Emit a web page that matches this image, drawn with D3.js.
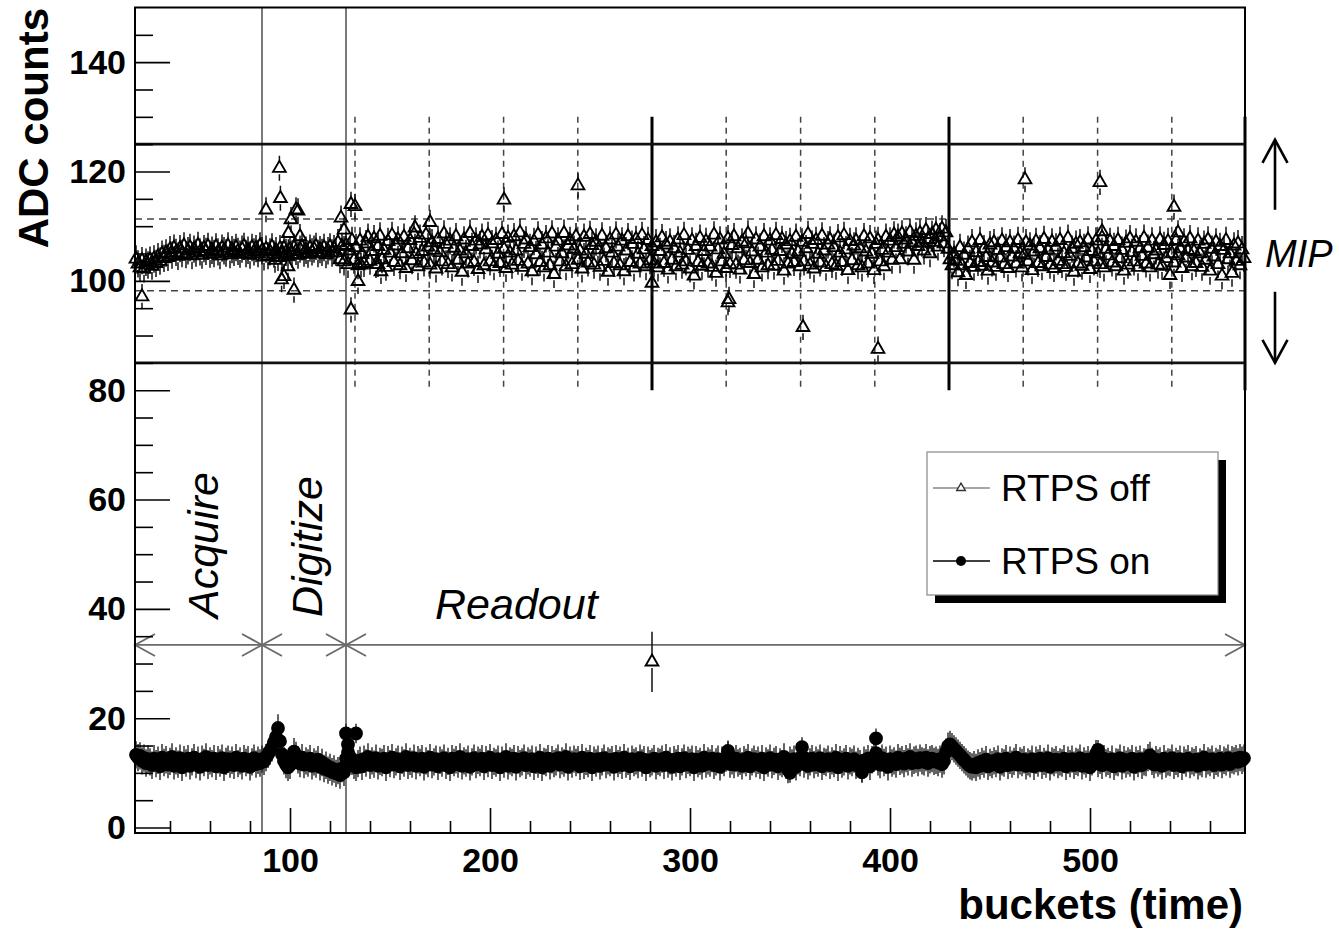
<!DOCTYPE html>
<html><head><meta charset="utf-8">
<script src="https://cdn.jsdelivr.net/npm/d3@7"></script>
<style>
body{margin:0;background:#fff}
svg{display:block;background:#fff}
text{font-family:"Liberation Sans",Arial,Helvetica,sans-serif}
</style>
</head><body>
<svg id="chart" width="1339" height="932"></svg>
<script>
// ---------------- data ----------------
const firstBucket = 23;
// RTPS off : one value per bucket (23 .. 577)
const rtpsOff = [
104.0,103.1,102.4,103.7,102.2,103.4,102.9,103.8,102.7,104.0,
103.2,104.4,103.6,104.9,104.1,105.1,104.3,105.7,104.7,106.0,
105.2,104.5,105.9,105.0,106.4,104.8,105.5,106.1,104.6,105.8,
105.1,106.5,105.3,104.7,105.9,105.4,106.3,104.9,105.6,105.0,
106.2,105.3,104.6,106.0,105.5,105.1,106.4,104.8,105.7,105.2,
106.1,105.4,104.9,105.8,106.3,105.0,105.6,104.7,106.1,105.3,
105.9,105.0,106.4,105.5,104.4,105.8,104.6,105.3,106.2,104.9,
105.5,104.3,105.9,104.8,106.0,105.2,104.5,105.7,104.9,106.1,
105.4,104.7,105.8,106.2,105.1,105.6,104.9,106.0,105.3,105.8,
106.3,105.0,105.7,105.2,106.1,104.8,105.5,106.2,105.1,105.9,
105.2,107.0,103.9,106.3,103.5,106.5,103.0,105.5,107.4,103.8,
106.1,102.8,107.3,104.9,103.2,106.8,108.0,103.6,105.4,107.7,
103.0,106.3,108.2,103.9,105.6,102.5,107.2,105.1,108.3,103.4,
106.4,107.5,102.8,105.0,108.0,102.3,105.9,107.4,103.7,108.5,
104.9,102.6,107.8,105.4,103.3,108.4,106.2,102.9,107.0,105.6,
102.2,107.6,105.2,103.5,108.6,106.7,103.0,107.3,102.4,106.0,
108.1,103.8,105.5,101.6,107.5,105.0,103.1,108.7,106.3,103.4,
107.3,102.1,106.6,108.0,102.8,105.7,108.3,103.5,106.8,102.6,
107.4,104.9,103.2,108.5,105.8,102.3,107.8,105.1,102.9,108.1,
105.5,103.6,108.8,102.5,106.7,107.5,103.1,106.1,101.7,107.2,
104.8,108.4,103.4,106.6,102.4,107.7,105.1,102.8,108.6,101.2,
106.2,107.3,103.5,105.0,108.7,102.6,106.4,107.4,103.0,105.8,
108.1,103.8,105.5,102.2,108.0,104.9,103.3,108.5,106.5,102.9,
107.1,105.7,102.5,108.2,103.6,105.9,101.6,107.5,105.1,103.2,
108.4,106.2,102.8,107.3,101.7,105.5,108.1,103.4,106.7,102.4,
107.6,104.9,103.1,108.3,105.7,102.6,107.4,103.7,106.3,103.1,
107.0,102.4,105.4,107.9,103.2,106.6,102.0,107.1,103.8,105.9,
102.6,107.5,105.1,102.9,108.3,103.5,105.6,102.2,107.3,100.9,
106.3,103.4,107.8,102.7,105.4,107.2,103.1,106.2,102.5,108.4,
101.4,105.7,107.5,103.5,104.9,102.3,107.7,103.0,106.5,108.1,
102.9,105.9,102.0,107.1,103.7,106.8,108.6,103.2,105.3,101.2,
107.5,103.8,106.2,102.4,108.1,105.1,102.8,107.3,105.6,102.7,
108.3,103.6,105.4,107.6,101.8,106.6,103.1,107.2,104.9,103.4,
108.0,105.3,102.6,107.1,103.5,105.9,108.5,102.9,106.7,102.2,
107.4,104.9,103.3,108.2,105.5,102.5,106.6,107.5,103.0,106.1,
102.7,107.9,105.1,103.4,108.3,105.7,101.9,107.2,103.7,106.4,
107.3,102.8,105.9,102.4,108.1,105.3,103.1,107.7,104.9,101.9,
106.7,107.4,103.5,105.6,102.6,108.0,105.1,107.3,103.8,108.4,
106.1,108.0,103.9,108.6,106.7,107.5,105.3,108.9,107.0,103.8,
108.2,106.3,108.7,106.9,105.5,109.2,107.6,105.0,108.5,107.1,
109.3,106.2,108.1,109.5,106.8,108.8,105.8,103.9,102.8,104.9,
103.6,101.5,106.1,102.8,104.7,101.0,105.8,103.2,107.0,102.5,
105.2,103.4,107.4,102.7,105.9,104.3,101.8,106.6,103.3,107.0,
102.5,105.6,104.2,107.3,103.0,106.1,102.3,107.0,104.4,105.8,
103.1,107.4,105.0,102.4,104.7,107.0,103.5,106.4,101.9,105.3,
107.2,103.2,105.9,102.6,107.6,104.3,105.6,102.9,107.1,102.3,
106.2,103.6,107.4,103.0,105.0,102.5,107.8,104.5,105.8,101.6,
106.7,103.1,107.0,102.7,106.1,104.2,107.5,102.1,105.4,103.5,
107.3,105.0,103.0,107.9,102.4,105.8,104.6,107.2,103.3,106.3,
102.6,107.4,104.1,105.6,101.8,106.9,102.9,107.7,105.2,103.5,
107.1,102.5,105.9,104.5,107.8,103.1,106.0,102.4,107.3,104.8,
105.5,102.9,107.5,102.7,106.5,104.1,107.2,101.0,105.0,103.3,
107.4,104.6,105.9,102.3,107.1,104.2,105.6,107.7,102.6,105.4,
103.2,107.3,105.0,102.5,106.7,103.8,107.5,101.8,105.8,104.4,
107.1,103.0,106.3,100.9,105.6,107.4,103.9,105.0,101.4,106.4,
103.6,106.8,102.8,105.7,104.1
];
// RTPS on : one value per bucket (23 .. 577)
const rtpsOn = [
13.3,12.8,13.1,12.2,12.7,11.8,12.5,12.0,11.4,12.6,
11.7,12.3,11.2,12.8,11.9,12.4,11.5,12.1,12.9,11.3,
12.2,11.6,12.7,11.0,12.4,11.8,12.6,11.3,12.0,12.8,
11.5,12.3,11.1,12.5,11.9,12.9,11.4,12.2,11.7,12.6,
11.2,12.4,11.8,12.7,11.0,12.1,12.5,11.6,12.3,11.4,
12.8,11.7,12.2,11.3,12.6,11.9,12.4,11.1,12.0,12.7,
11.6,12.3,11.8,12.5,12.1,12.8,13.4,14.0,14.6,15.6,
16.6,18.2,15.8,13.4,12.2,11.5,11.0,11.4,12.6,13.9,
13.2,12.4,11.7,12.8,11.5,12.2,11.8,12.6,11.3,12.0,
11.6,12.4,11.1,11.9,10.8,11.4,10.5,11.0,10.2,10.7,
9.9,10.4,9.6,10.8,10.1,12.6,13.8,12.9,12.1,11.4,
11.0,11.7,12.3,11.2,12.5,11.8,12.9,11.4,12.2,11.6,
12.7,11.3,12.1,11.9,12.6,11.0,12.4,11.7,12.8,11.5,
12.0,12.5,11.2,12.3,11.8,12.9,11.4,12.1,11.6,12.7,
11.3,12.4,11.9,12.6,11.1,12.2,11.7,12.8,11.5,12.0,
12.5,11.2,12.3,11.8,12.7,11.4,12.1,11.0,12.6,11.9,
12.4,11.6,12.9,11.3,12.2,11.8,12.5,11.1,12.0,12.7,
11.5,12.3,11.9,12.6,11.2,12.4,11.7,12.8,11.4,12.1,
11.8,12.5,11.0,12.3,11.6,12.9,11.3,12.2,11.9,12.6,
11.1,12.4,11.7,12.0,12.7,11.4,12.2,11.8,12.5,11.2,
12.3,11.6,12.8,11.0,12.1,11.9,12.6,11.3,12.4,11.7,
12.0,12.7,11.5,12.2,11.8,12.9,11.1,12.3,11.6,12.5,
11.9,12.4,11.2,12.8,11.4,12.1,11.7,12.6,11.0,12.3,
11.8,12.5,11.3,12.0,12.7,11.5,12.2,11.9,12.4,11.1,
12.6,11.7,12.3,11.4,12.8,11.6,12.1,11.2,12.5,11.9,
12.2,11.5,12.7,11.8,12.4,11.0,12.3,11.7,12.0,12.6,
11.3,12.1,11.9,12.5,11.4,12.8,11.6,12.2,11.1,12.4,
11.8,12.6,11.2,12.0,12.7,11.5,12.3,11.9,12.5,11.0,
12.4,11.7,12.1,11.3,12.8,11.6,12.2,11.8,12.6,11.4,
12.0,12.5,11.1,12.3,11.9,12.7,13.4,11.6,12.2,11.5,
12.6,11.8,12.1,11.3,12.4,11.9,12.8,11.2,12.0,12.5,
11.7,12.3,11.4,12.6,11.0,12.2,11.8,12.7,11.5,12.1,
12.4,11.2,12.0,11.7,12.9,11.4,10.6,12.3,11.8,12.5,
11.1,12.2,11.9,13.1,11.6,12.4,11.3,12.0,12.6,11.5,
12.3,11.8,12.7,11.2,12.1,11.9,12.5,11.4,12.2,11.7,
12.8,11.0,12.4,11.6,12.0,12.6,11.3,12.2,11.9,12.5,
11.4,12.1,11.7,10.7,12.3,11.8,12.6,11.2,12.4,12.9,
13.6,12.0,11.5,12.7,11.9,12.3,11.1,12.5,11.8,12.2,
11.6,12.8,12.1,12.4,11.7,12.6,12.0,12.9,11.8,12.3,
12.5,11.9,12.7,12.2,12.0,12.8,11.8,12.4,12.6,12.1,
12.3,11.9,12.5,11.6,12.2,13.8,14.9,15.2,14.8,14.4,
14.0,13.6,13.2,12.8,12.4,12.0,11.6,11.3,11.1,11.5,
11.0,11.8,11.3,12.1,11.6,12.4,11.2,11.9,11.5,12.2,
11.7,12.5,11.1,12.0,11.8,12.6,11.4,12.3,11.6,12.1,
12.8,11.5,12.2,11.9,12.4,11.3,12.0,11.7,12.5,11.2,
12.3,11.8,12.6,11.4,12.1,11.6,12.7,11.1,12.2,11.9,
12.4,11.5,12.0,11.8,12.6,11.2,12.3,11.7,12.5,11.4,
12.1,11.9,12.7,11.3,12.2,11.6,12.4,11.0,12.0,12.8,
13.5,11.7,12.3,11.4,12.6,11.8,12.1,11.5,12.5,11.2,
12.0,11.9,12.7,11.3,12.4,11.6,12.2,11.8,12.6,11.1,
12.3,11.7,12.5,11.4,12.0,11.9,12.8,13.2,12.1,11.5,
12.4,11.8,12.2,11.3,12.6,11.6,12.0,11.9,12.7,11.4,
12.1,11.7,12.5,11.2,12.3,11.8,12.6,11.5,12.2,11.9,
12.4,11.3,12.0,11.7,12.8,11.6,12.2,11.9,12.5,11.4,
12.1,11.8,12.6,11.5,12.3,12.0,12.7,11.6,12.4,12.2,
12.6,12.0,12.8,12.3,12.7
];
const offErr = 2.5;
const onErr = 2.5;
// additional (repeated-event) points: [bucket, value, error]
const offExtra = [
[26,97.1,2.3],[88,113.0,2.3],[92.5,103.8,2.3],[94.7,120.6,2.3],[95.2,115.1,2.3],
[95.8,100.2,2.3],[97,100.8,2.3],[99,102.6,2.3],[99.2,108.7,2.3],[100.5,111.2,2.3],
[102,98.3,2.3],[103,113.0,2.3],[104,112.8,2.3],[105,108.1,2.3],[125.5,111.5,2.3],
[127,109.3,2.3],[130.5,114.0,2.3],[132.5,113.6,2.3],[130.5,94.7,2.3],[134,99.9,2.3],
[135.5,102.9,2.3],[144,103.0,2.3],[145.5,101.7,2.3],[162.5,109.7,2.3],[170,110.7,2.3],
[207,114.8,2.3],[244,117.4,2.3],[281,99.6,2.3],[281,30.3,5.5],[319,96.0,2.3],
[319.5,96.6,2.3],[356.5,91.5,2.3],[394,87.5,2.3],[467.5,118.5,2.3],[505,118.0,2.3],
[506,109.0,2.3],[542,113.5,2.3],[544,108.8,2.3]
];
const onExtra = [
[128,17.2,1.8],[133,17.2,1.8],[129,15.2,1.8],[319,14.0,1.8],[350,10.0,1.8],
[356,14.7,1.8],[386,10.1,1.8],[393,16.3,1.8],[504,14.2,1.8]
];
// axes
const xDomain = [22.5, 577.5];
const yDomain = [-1, 150];
const xMajor = [100, 200, 300, 400, 500];
const xMinor = [40, 60, 80, 120, 140, 160, 180, 220, 240, 260, 280, 320, 340, 360, 380, 420, 440, 460, 480, 520, 540, 560];
const yMajor = [0, 20, 40, 60, 80, 100, 120, 140];
const yMinor = [5, 10, 15, 25, 30, 35, 45, 50, 55, 65, 70, 75, 85, 90, 95, 105, 110, 115, 125, 130, 135, 145];
// annotations (data units)
const phaseBounds = [86, 128];
const phaseArrowLevel = 33.4;
const phaseLabels = ["Acquire", "Digitize", "Readout"];
const mipLimits = [85, 125];
const mipBand = [98.2, 111.3];
const cycleMarks = [132.5, 169.6, 206.8, 243.9, 318.1, 355.3, 392.4, 466.6, 503.8, 540.9];
const cycleMarksThick = [281, 429.5, 577.5];
const cycleSpan = [80, 130];
const mipArrowUp = [113, 125.8];
const mipArrowDown = [98, 85];
const seriesNames = ["RTPS off", "RTPS on"];

// ---------------- drawing ----------------
const svg = d3.select("#chart");
const L = 135, R = 1245, T = 7.5, B = 833;
const x = d3.scaleLinear().domain(xDomain).range([L, R]);
const y = d3.scaleLinear().domain(yDomain).range([B, T]);
const FONT = '"Liberation Sans",Arial,Helvetica,sans-serif';

const offData = rtpsOff.map((v, i) => ({b: firstBucket + i, v, e: offErr}))
  .concat(offExtra.map(d => ({b: d[0], v: d[1], e: d[2]})));
const onData = rtpsOn.map((v, i) => ({b: firstBucket + i, v, e: onErr}))
  .concat(onExtra.map(d => ({b: d[0], v: d[1], e: d[2]})));

// phase boundaries (gray, full height)
svg.append("g").selectAll("line").data(phaseBounds).join("line")
  .attr("x1", d => x(d)).attr("x2", d => x(d)).attr("y1", T).attr("y2", B)
  .attr("stroke", "#7a7a7a").attr("stroke-width", 2);

// MIP dashed band
svg.append("g").selectAll("line").data(mipBand).join("line")
  .attr("x1", L).attr("x2", R).attr("y1", d => y(d)).attr("y2", d => y(d))
  .attr("stroke", "#444").attr("stroke-width", 1.4).attr("stroke-dasharray", "7,5");

// cycle dashed verticals
svg.append("g").selectAll("line").data(cycleMarks).join("line")
  .attr("x1", d => x(d)).attr("x2", d => x(d)).attr("y1", y(cycleSpan[1])).attr("y2", y(cycleSpan[0]))
  .attr("stroke", "#444").attr("stroke-width", 1.5).attr("stroke-dasharray", "6,5");
svg.append("g").selectAll("line").data(cycleMarksThick).join("line")
  .attr("x1", d => x(d)).attr("x2", d => x(d)).attr("y1", y(cycleSpan[1])).attr("y2", y(cycleSpan[0]))
  .attr("stroke", "#000").attr("stroke-width", 3);

// MIP limits
svg.append("g").selectAll("line").data(mipLimits).join("line")
  .attr("x1", L).attr("x2", R).attr("y1", d => y(d)).attr("y2", d => y(d))
  .attr("stroke", "#111").attr("stroke-width", 2.6);

// phase arrow line
const ya = y(phaseArrowLevel);
const ag = svg.append("g").attr("stroke", "#6a6a6a").attr("stroke-width", 1.8).attr("fill", "none");
ag.append("line").attr("x1", x(xDomain[0])).attr("x2", x(xDomain[1])).attr("y1", ya).attr("y2", ya);
const AH = 20, AW = 11;
function head(px, dir) {
  ag.append("path").attr("d", `M${px - dir*AH},${ya - AW}L${px},${ya}L${px - dir*AH},${ya + AW}`);
}
head(x(xDomain[0]), -1);
phaseBounds.forEach(b => { head(x(b), 1); head(x(b), -1); });
head(x(xDomain[1]), 1);

// series: error bars + markers
const triSym = d3.symbol().type(d3.symbolTriangle).size(70);
const cirSym = d3.symbol().type(d3.symbolCircle).size(150);

function errBars(g, data, gap, color, w) {
  g.selectAll("path.eb").data(data).join("path").attr("class", "eb")
    .attr("d", d => {
      const cy = y(d.v), top = y(d.v + d.e), bot = y(d.v - d.e);
      let s = "";
      if (cy - gap > top) s += `M${x(d.b)},${top}L${x(d.b)},${cy - gap}`;
      if (cy + gap < bot) s += `M${x(d.b)},${cy + gap}L${x(d.b)},${bot}`;
      return s || "M0,0";
    })
    .attr("stroke", color).attr("stroke-width", w).attr("fill", "none");
}
const gOff = svg.append("g");
errBars(gOff, offData, 6, "#111", 1.5);
gOff.selectAll("path.m").data(offData).join("path").attr("class", "m")
  .attr("d", triSym).attr("transform", d => `translate(${x(d.b)},${y(d.v)})`)
  .attr("fill", "none").attr("stroke", "#000").attr("stroke-width", 1.9);

const gOn = svg.append("g");
errBars(gOn, onData, 5, "#222", 1.4);
gOn.selectAll("path.m").data(onData).join("path").attr("class", "m")
  .attr("d", cirSym).attr("transform", d => `translate(${x(d.b)},${y(d.v)})`)
  .attr("fill", "#000");

// frame
svg.append("rect").attr("x", L).attr("y", T).attr("width", R - L).attr("height", B - T)
  .attr("fill", "none").attr("stroke", "#000").attr("stroke-width", 2);

// axes
function styleAxis(g) {
  g.select(".domain").remove();
  g.selectAll(".tick line").attr("stroke", "#000").attr("stroke-width", 1.6);
  g.attr("font-family", FONT);
}
const gx = svg.append("g").attr("transform", `translate(0,${B})`)
  .call(d3.axisBottom(x).tickValues(xMajor).tickSize(-25).tickPadding(15).tickFormat(d3.format("d")));
styleAxis(gx);
gx.selectAll("text").attr("font-size", 34).attr("font-weight", "bold").attr("fill", "#000");
const gx2 = svg.append("g").attr("transform", `translate(0,${B})`)
  .call(d3.axisBottom(x).tickValues(xMinor).tickSize(-12).tickFormat(""));
styleAxis(gx2);

const gy = svg.append("g").attr("transform", `translate(${L},0)`)
  .call(d3.axisLeft(y).tickValues(yMajor).tickSize(-35).tickPadding(9).tickFormat(d3.format("d")));
styleAxis(gy);
gy.selectAll("text").attr("font-size", 34).attr("font-weight", "bold").attr("fill", "#000");
const gy2 = svg.append("g").attr("transform", `translate(${L},0)`)
  .call(d3.axisLeft(y).tickValues(yMinor).tickSize(-18).tickFormat(""));
styleAxis(gy2);

// axis titles
svg.append("text").attr("transform", `translate(48,8) rotate(-90)`)
  .attr("text-anchor", "end").attr("font-size", 42).attr("font-weight", "bold").text("ADC counts");
svg.append("text").attr("x", 1243).attr("y", 919)
  .attr("text-anchor", "end").attr("font-size", 42).attr("font-weight", "bold").text("buckets (time)");

// phase labels
svg.append("text").attr("transform", `translate(218,618) rotate(-90)`)
  .attr("font-size", 43).attr("font-style", "italic").text(phaseLabels[0]);
svg.append("text").attr("transform", `translate(322,617) rotate(-90)`)
  .attr("font-size", 43).attr("font-style", "italic").text(phaseLabels[1]);
svg.append("text").attr("x", 435).attr("y", 619)
  .attr("font-size", 43).attr("font-style", "italic").text(phaseLabels[2]);

// MIP label + arrows
const mx = R + 30;
svg.append("text").attr("x", R + 20).attr("y", 267)
  .attr("font-size", 38).attr("font-style", "italic").text("MIP");
const mg = svg.append("g").attr("stroke", "#000").attr("stroke-width", 2.6).attr("fill", "none");
function vArrow(v0, v1) {
  const y0 = y(v0), y1 = y(v1), dir = Math.sign(y1 - y0);
  mg.append("line").attr("x1", mx).attr("x2", mx).attr("y1", y0).attr("y2", y1);
  mg.append("path").attr("d", `M${mx - 12.5},${y1 - dir*23}L${mx},${y1}L${mx + 12.5},${y1 - dir*23}`);
}
vArrow(mipArrowUp[0], mipArrowUp[1]);
vArrow(mipArrowDown[0], mipArrowDown[1]);

// legend
const lg = svg.append("g");
const LX = 927, LY = 452, LW = 291, LH = 143;
lg.append("rect").attr("x", LX + 8).attr("y", LY + 8).attr("width", LW).attr("height", LH).attr("fill", "#000");
lg.append("rect").attr("x", LX).attr("y", LY).attr("width", LW).attr("height", LH)
  .attr("fill", "#fff").attr("stroke", "#888").attr("stroke-width", 1.2);
const rows = [{name: seriesNames[0], yy: 488, color: "#888", sym: "tri"},
              {name: seriesNames[1], yy: 561, color: "#000", sym: "cir"}];
rows.forEach(r => {
  lg.append("line").attr("x1", LX + 6).attr("x2", LX + 63).attr("y1", r.yy).attr("y2", r.yy)
    .attr("stroke", r.color).attr("stroke-width", 1.6);
  if (r.sym === "tri") {
    lg.append("path").attr("d", d3.symbol().type(d3.symbolTriangle).size(32)())
      .attr("transform", `translate(${LX + 34},${r.yy})`).attr("fill", "#fff").attr("stroke", "#333").attr("stroke-width", 1.4);
  } else {
    lg.append("circle").attr("cx", LX + 34).attr("cy", r.yy).attr("r", 5).attr("fill", "#000");
  }
  lg.append("text").attr("x", LX + 74).attr("y", r.yy + 13).attr("font-size", 37).text(r.name);
});
</script>
</body></html>
